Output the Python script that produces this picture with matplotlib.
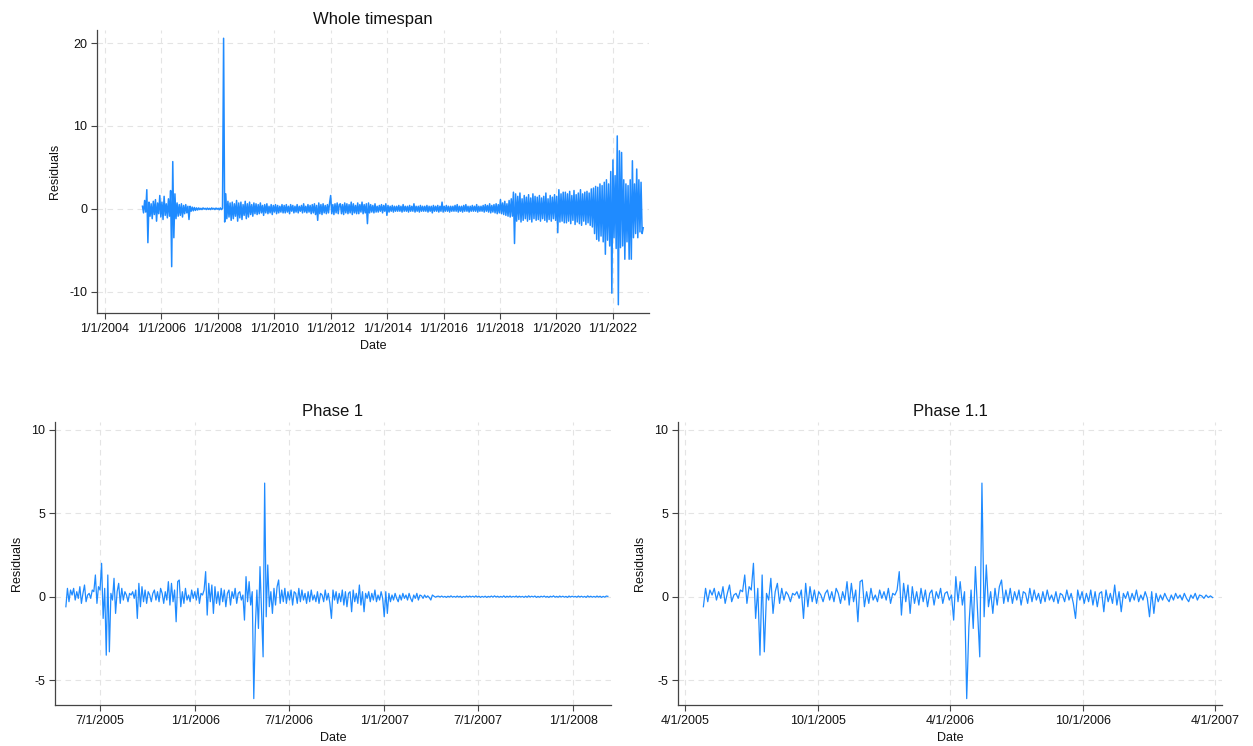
import matplotlib
matplotlib.use("Agg")
import matplotlib.pyplot as plt
import matplotlib.dates as mdates
from matplotlib.ticker import FuncFormatter
import pandas as pd

plt.rcParams['font.family'] = ['Liberation Sans', 'DejaVu Sans']
plt.rcParams['axes.unicode_minus'] = False

# ---------------- data ----------------
# Whole timespan residuals (bi-weekly readings from 2005-05-01)
whole_start = "2005-05-01"
whole_vals = [
    0.3, -0.5, 1.0, -0.4, 2.3, -4.1, 0.8, -0.9, 0.6, -1.2, 0.9, -0.7, 1.1, -1.5, 0.7, -0.6, 1.6, -1.0, 0.8, -1.3, 1.5, -0.8, 0.6, -1.1, 1.2, -0.9,
    2.2, -7.0, 5.7, -3.5, 1.8, -1.2, 0.7, -0.9, 0.5, -0.8, 0.6, -1.0, 0.4, -0.6, 0.5, -0.5, 0.3, -1.3, 0.3, -0.3, 0.2, -0.25, 0.15, -0.2, 0.1, -0.15,
    0.1, -0.1, 0.05, -0.1, 0.1, -0.05, 0.05, -0.1, 0.08, -0.08, 0.05, -0.1, 0.1, -0.05, 0.05, -0.1, 0.08, -0.06, 0.05, -0.12, 0.1, -0.1, 0.05, 20.6, -1.6, 1.8, -1.2,
    0.9, -1.0, 0.7, -1.4, 0.8, -1.2, 0.6, -0.9, 1.0, -1.5, 0.7, -1.1, 0.8, -1.3, 0.5, -0.8, 0.9, -1.2, 0.6, -1.0, 0.8, -0.7, 0.5, -0.9, 0.7, -0.6,
    0.6, -0.7, 0.5, -0.6, 0.7, -0.5, 0.4, -0.8, 0.5, -0.5, 0.6, -0.6, 0.3, -0.5, 0.5, -0.7, 0.4, -0.4, 0.5, -0.6, 0.4, -0.5, 0.3, -0.4, 0.5, -0.5,
    0.4, -0.5, 0.5, -0.4, 0.3, -0.6, 0.5, -0.3, 0.4, -0.5, 0.3, -0.4, 0.5, -0.5, 0.3, -0.3, 0.4, -0.5, 0.6, -0.4, 0.3, -0.5, 0.5, -0.4, 0.4, -0.6,
    0.5, -0.5, 0.6, -0.7, 0.4, -1.4, 0.7, -0.6, 0.5, -0.7, 0.6, -0.5, 0.4, -0.6, 0.5, -0.5, 0.7, 1.6, -0.6, 0.5, -0.7, 0.6, -0.5, 0.7, -0.6, 0.5,
    0.6, -0.6, 0.5, -0.7, 0.7, -0.5, 0.6, -0.6, 0.5, -0.5, 0.8, -0.7, 0.6, -0.5, 0.4, -0.6, 0.7, -0.6, 0.5, -0.4, 0.8, -0.6, 0.5, -0.5, 0.6, -1.8,
    0.7, -0.5, 0.5, -0.4, 0.4, -0.5, 0.6, -0.4, 0.3, -0.4, 0.4, -0.3, 0.5, -0.5, 0.4, -0.3, 0.6, -0.8, 0.4, -0.4, 0.3, -0.3, 0.4, -0.4, 0.3, -0.3,
    0.3, -0.3, 0.4, -0.3, 0.3, -0.4, 0.5, -0.3, 0.3, -0.3, 0.3, -0.4, 0.4, -0.3, 0.3, -0.3, 0.6, -0.4, 0.3, -0.3, 0.3, -0.4, 0.4, -0.3, 0.3, -0.3,
    0.3, -0.3, 0.4, -0.4, 0.3, -0.3, 0.3, -0.5, 0.4, -0.3, 0.3, -0.3, 0.4, -0.4, 0.3, -0.3, 0.8, -0.4, 0.3, -0.3, 0.4, -0.3, 0.3, -0.4, 0.3, -0.3,
    0.3, -0.3, 0.4, -0.3, 0.5, -0.4, 0.3, -0.3, 0.3, -0.4, 0.4, -0.3, 0.5, -0.3, 0.3, -0.4, 0.3, -0.3, 0.4, -0.3, 0.3, -0.3, 0.5, -0.4, 0.3, -0.3,
    0.3, -0.3, 0.4, -0.4, 0.5, -0.3, 0.4, -0.4, 0.6, -0.5, 0.4, -0.4, 0.5, -0.5, 0.6, -0.6, 0.5, -0.5, 1.1, -0.6, 0.7, -0.7, 0.9, -0.8, 0.6, -0.9,
    1.0, -1.0, 1.2, -0.9, 2.0, -4.2, 1.8, -1.5, 1.5, -1.3, 1.9, -1.6, 1.2, -1.4, 1.6, -1.2, 1.4, -1.5, 1.7, -1.3, 1.3, -1.6, 1.8, -1.2, 1.5, -1.4,
    1.4, -1.3, 1.6, -1.5, 1.3, -1.2, 1.5, -1.4, 1.9, -1.6, 1.2, -1.3, 1.6, -1.5, 1.4, -1.2, 1.7, -1.4, 1.5, -2.9, 2.3, -1.6, 1.8, -1.5, 2.0, -1.7,
    2.0, -1.7, 1.8, -1.5, 2.1, -1.8, 1.6, -1.4, 2.2, -1.9, 1.7, -1.6, 1.9, -1.8, 2.3, -2.0, 1.8, -1.5, 2.0, -1.9, 2.1, -1.7, 1.9, -2.0, 2.4, -2.2,
    2.5, -3.0, 2.7, -3.7, 2.6, -3.9, 3.0, -3.3, 2.8, -4.0, 3.2, -5.5, 3.5, -3.8, 3.0, -4.5, 4.5, -10.2, 5.9, -3.5, 4.0, -4.8, 8.8, -11.6, 7.0, -4.7,
    6.8, -4.5, 3.5, -6.1, 3.0, -4.0, 2.8, -6.1, 3.5, -6.1, 5.8, -3.5, 3.0, -3.0, 4.8, -3.5, 3.5, -2.8, 3.2, -3.0, -2.3,
]

# Phase 1 residuals (readings every 3 days from 2005-04-26)
phase_start = "2005-04-26"
phase_vals = [
    -0.6, 0.5, -0.3, 0.4, 0.1, 0.5, -0.2, 0.3, -0.1, 0.6,
    -0.4, 0.2, 0.7, -0.3, 0.1, 0.2, -0.1, 0.4, 0.3, 1.3,
    -0.4, 0.6, 0.4, 2.0, -1.3, 0.5, -3.5, 1.3, -3.3, 0.2,
    -0.2, 1.1, -1.0, 0.3, 0.8, -0.4, 0.5, -0.2, 0.3, 0.1,
    -0.3, 0.2, 0.1, 0.3, -0.1, 0.4, -1.3, 0.8, -0.6, 0.6,
    -0.3, 0.4, -0.4, 0.3, 0.1, -0.3, 0.2, 0.4, -0.2, 0.3,
    -0.3, 0.5, 0.2, -0.4, 0.3, -0.2, 0.9, -0.5, 0.8, -0.3,
    0.4, -1.5, 0.9, 1.0, -0.6, 0.3, -0.4, 0.5, -0.2, 0.1,
    -0.3, 0.4, -0.1, 0.3, -0.2, 0.5, -0.4, 0.2, 0.1, 0.4,
    1.5, -1.1, 0.8, -0.3, 0.7, -1.0, 0.6, -0.4, 0.3, -0.5,
    0.5, -0.3, 0.4, -0.6, 0.2, 0.4, -0.5, 0.3, -0.1, 0.5,
    -0.4, 0.2, 0.3, -0.2, 0.1, -1.4, 1.2, -0.3, 0.9, -0.5,
    0.3, -6.1, -1.8, 0.4, -1.9, 1.8, -0.9, -3.6, 6.8, -1.2,
    1.9, -0.6, 0.3, -1.0, 0.5, -0.5, 0.6, 1.0, -0.4, 0.4,
    -0.3, 0.5, -0.4, 0.3, -0.2, 0.4, -0.5, 0.3, 0.2, -0.4,
    0.5, -0.3, 0.4, -0.2, 0.2, -0.4, 0.3, -0.3, 0.4, -0.2,
    0.1, -0.3, 0.3, -0.4, 0.2, 0.1, -0.3, 0.4, -0.2, 0.2,
    -0.4, -1.3, 0.4, -0.2, 0.3, -0.4, 0.2, -0.3, 0.4, -0.5,
    0.3, -0.6, 0.2, 0.3, -0.9, 0.4, -0.3, 0.2, -0.4, 0.7,
    -0.5, 0.3, -0.9, 0.2, -0.1, 0.3, -0.3, 0.2, -0.2, 0.4,
    -0.3, 0.1, -0.2, 0.3, -0.1, -1.2, 0.3, -1.0, 0.2, -0.3,
    0.1, -0.2, 0.2, -0.1, -0.3, 0.1, -0.2, 0.2, -0.1, 0.1,
    -0.2, 0.2, -0.1, -0.3, 0.1, -0.1, 0.2, -0.2, 0.1, 0.05,
    -0.1, 0.1, -0.05, 0.05, -0.05, -0.2, 0.1, 0.03, -0.03, 0.02,
    0.03, -0.02, 0.04, -0.03, 0.02, -0.04, 0.03, -0.02, 0.05, -0.03,
    0.02, -0.03, 0.04, -0.02, 0.03, -0.05, 0.02, -0.03, 0.04, -0.02,
    0.04, -0.02, 0.03, -0.03, 0.05, -0.02, 0.03, -0.04, 0.02, -0.03,
    0.03, -0.04, 0.02, -0.02, 0.04, -0.03, 0.05, -0.02, 0.03, -0.03,
    0.02, -0.03, 0.05, -0.04, 0.03, -0.02, 0.04, -0.03, 0.02, -0.02,
    0.04, -0.03, 0.03, -0.02, 0.02, -0.04, 0.03, -0.03, 0.05, -0.02,
    0.03, -0.02, 0.04, -0.04, 0.02, -0.03, 0.03, -0.02, 0.04, -0.03,
    0.02, -0.04, 0.03, -0.02, 0.05, -0.03, 0.02, -0.03, 0.04, -0.02,
    0.03, -0.03, 0.02, -0.04, 0.04, -0.02, 0.03, -0.02, 0.02, -0.03,
    0.04, -0.02, 0.03, -0.03, 0.02, -0.04, 0.05, -0.02, 0.03, -0.03,
    0.02, -0.03, 0.04, -0.02, 0.03, -0.04, 0.02, -0.03, 0.04, 0.02,
]
phase11_end = "2007-03-31"

titles = ["Whole timespan", "Phase 1", "Phase 1.1"]
whole_xticks = ["2004-01-01", "2006-01-01", "2008-01-01", "2010-01-01", "2012-01-01",
                "2014-01-01", "2016-01-01", "2018-01-01", "2020-01-01", "2022-01-01"]
phase1_xticks = ["2005-07-01", "2006-01-01", "2006-07-01", "2007-01-01", "2007-07-01", "2008-01-01"]
phase11_xticks = ["2005-04-01", "2005-10-01", "2006-04-01", "2006-10-01", "2007-04-01"]
whole_yticks = [-10, 0, 10, 20]
phase_yticks = [-5, 0, 5, 10]

# ---------------- build series ----------------
whole = pd.Series(whole_vals, index=pd.date_range(whole_start, periods=len(whole_vals), freq="14D"))
phase = pd.Series(phase_vals, index=pd.date_range(phase_start, periods=len(phase_vals), freq="3D"))
phase11 = phase[phase.index <= pd.Timestamp(phase11_end)]

LINE = "#1f8bff"
GRID = "#e4e4e4"
AX = "#444444"

fig = plt.figure(figsize=(12.53, 7.46), dpi=100)
fig.patch.set_facecolor("white")

ax1 = fig.add_axes([0.0774, 0.5804, 0.4405, 0.3794])
ax2 = fig.add_axes([0.0439, 0.0550, 0.4437, 0.3794])
ax3 = fig.add_axes([0.5411, 0.0550, 0.4342, 0.3794])

fmt = FuncFormatter(lambda v, p: (lambda d: f"{d.month}/{d.day}/{d.year}")(mdates.num2date(v)))


def style(ax, title, xticks, yticks, xlim, ylim):
    ax.set_title(title, fontsize=12, pad=4, color="#111111")
    for s in ["top", "right"]:
        ax.spines[s].set_visible(False)
    for s in ["left", "bottom"]:
        ax.spines[s].set_color(AX)
        ax.spines[s].set_linewidth(0.9)
    ax.set_xticks([pd.Timestamp(t) for t in xticks])
    ax.xaxis.set_major_formatter(fmt)
    ax.set_yticks(yticks)
    ax.set_xlim(pd.Timestamp(xlim[0]), pd.Timestamp(xlim[1]))
    ax.set_ylim(*ylim)
    ax.tick_params(axis="both", direction="out", length=4, width=0.8, color=AX,
                   labelsize=9, labelcolor="#111111", pad=3)
    ax.grid(True, color=GRID, linestyle=(0, (5, 4)), linewidth=0.8)
    ax.set_axisbelow(True)
    ax.set_xlabel("Date", fontsize=9, labelpad=4, color="#111111")
    ax.set_ylabel("Residuals", fontsize=9, labelpad=6, color="#111111")


ax1.plot(whole.index, whole.values, color=LINE, lw=1.1)
style(ax1, titles[0], whole_xticks, whole_yticks, ("2003-09-20", "2023-04-13"), (-12.6, 21.6))

ax2.plot(phase.index, phase.values, color=LINE, lw=0.9)
style(ax2, titles[1], phase1_xticks, phase_yticks, ("2005-04-05", "2008-03-14"), (-6.48, 10.46))

ax3.plot(phase11.index, phase11.values, color=LINE, lw=0.9)
style(ax3, titles[2], phase11_xticks, phase_yticks, ("2005-03-22", "2007-04-11"), (-6.48, 10.46))

fig.savefig("out.png", dpi=100, facecolor="white")
